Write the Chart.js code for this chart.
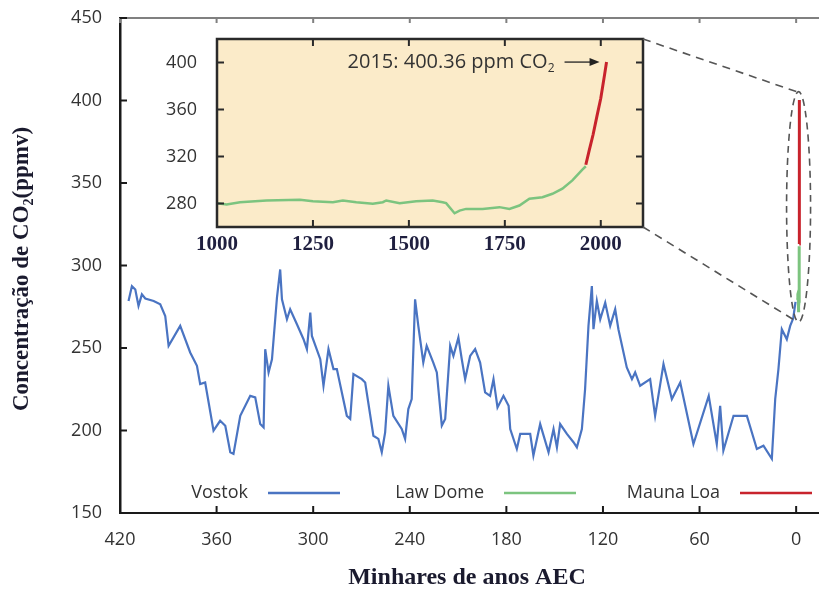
<!DOCTYPE html>
<html lang="pt">
<head>
  <meta charset="UTF-8" />
  <title>Concentração de CO2 - Vostok, Law Dome, Mauna Loa</title>
  <script src="https://cdn.jsdelivr.net/npm/chart.js"></script>
  <style>
    html, body { margin: 0; padding: 0; background: #fff; overflow: hidden; }
    #wrap { position: relative; width: 819px; height: 595px; overflow: hidden; }
    #wrap canvas { position: absolute; left: 0; top: 0; }
  </style>
</head>
<body>
<div id="wrap">
  <canvas id="mainChart" width="840" height="595"></canvas>
  <canvas id="insetChart" width="840" height="595"></canvas>
</div>
<script>
  // Vostok ice core: thousands of years BCE / ppmv
  const vostokAge = [414.7, 412.6, 410.5, 408.5, 406.4, 404.3, 399.1, 395.0, 391.9, 389.8,
    382.6, 376.4, 372.2, 370.2, 367.1, 361.9, 357.8, 354.6, 351.5, 349.5,
    345.3, 339.1, 336.0, 332.9, 330.8, 329.8, 327.7, 325.6, 322.5, 320.5,
    319.4, 316.3, 314.3, 310.1, 306.0, 303.9, 301.8, 300.8, 295.6, 293.6,
    290.5, 287.4, 285.3, 279.1, 277.0, 275.0, 269.8, 267.7, 262.6, 259.5,
    257.4, 255.3, 253.3, 250.2, 245.0, 242.9, 240.9, 238.8, 236.7, 234.7,
    231.6, 229.5, 225.4, 223.2, 220.1, 218.0, 214.9, 212.9, 209.8, 207.7,
    205.6, 202.5, 199.4, 196.3, 193.2, 190.1, 188.0, 185.5, 181.8, 178.6,
    177.6, 173.5, 171.4, 165.2, 163.2, 159.0, 153.8, 150.7, 148.6, 146.6,
    142.4, 138.3, 136.2, 133.1, 131.1, 129.0, 126.9, 125.9, 123.8, 121.7,
    118.6, 115.5, 112.4, 110.4, 105.2, 102.0, 100.0, 96.9, 90.7, 87.6,
    82.4, 77.2, 72.0, 63.8, 54.3, 49.3, 47.2, 45.2, 38.9, 30.6,
    24.4, 20.3, 15.1, 13.0, 11.0, 8.9, 5.8, 3.7, 1.8, 0.4];
  const vostokCO2 = [278.5, 287.5, 285.5, 275.5, 282.5, 280.0, 278.5, 276.5, 269.4, 251.3,
    263.4, 247.3, 239.2, 228.1, 229.1, 199.9, 205.9, 202.9, 186.8, 185.8,
    208.9, 221.0, 220.1, 203.9, 201.9, 249.3, 235.2, 243.2, 280.5, 297.6,
    279.5, 267.4, 273.5, 264.4, 255.3, 249.3, 271.5, 257.3, 243.2, 227.1,
    249.3, 237.2, 237.2, 208.9, 207.0, 234.2, 231.1, 229.1, 196.8, 194.9,
    186.8, 198.9, 227.1, 208.9, 200.9, 194.9, 213.0, 219.1, 279.5, 263.4,
    241.2, 251.3, 241.2, 235.2, 203.0, 207.0, 251.3, 245.2, 256.3, 243.2,
    231.1, 245.2, 249.3, 241.2, 223.1, 221.0, 231.1, 214.0, 221.0, 215.0,
    200.9, 188.8, 197.9, 197.9, 184.8, 203.9, 186.8, 200.9, 189.8, 203.9,
    197.9, 192.9, 189.8, 200.9, 225.1, 263.4, 287.5, 261.4, 278.5, 267.4,
    277.5, 263.4, 273.5, 261.4, 238.2, 231.1, 235.2, 227.1, 231.1, 208.9,
    240.2, 219.1, 229.1, 191.8, 221.0, 191.8, 215.0, 187.8, 208.9, 208.9,
    188.8, 190.8, 182.8, 219.1, 237.2, 261.4, 255.3, 263.4, 268.0, 278.0];

  // Law Dome (year CE / ppm)
  const lawDomeYear = [1000, 1025, 1060, 1129, 1216, 1250, 1302, 1328, 1363, 1406,
    1432, 1441, 1476, 1519, 1562, 1588, 1597, 1619, 1632, 1649,
    1692, 1736, 1762, 1788, 1814, 1848, 1874, 1900, 1926, 1952, 1961];
  const lawDomeCO2 = [280.3, 279.1, 281.1, 282.6, 283.1, 282.0, 281.1, 282.6, 281.1, 279.7,
    281.1, 282.6, 280.3, 282.0, 282.6, 281.1, 280.3, 271.7, 274.0, 275.4,
    275.4, 276.9, 275.4, 278.3, 284.0, 285.4, 288.3, 292.6, 299.7, 308.9, 311.7];

  // Mauna Loa (year CE / ppm)
  const maunaLoaYear = [1961, 1970, 1980, 1990, 2000, 2010, 2015];
  const maunaLoaCO2 = [313.0, 325.5, 338.7, 354.4, 369.5, 389.9, 400.36];

  const mainXTicks = [420, 360, 300, 240, 180, 120, 60, 0];
  const mainYTicks = [150, 200, 250, 300, 350, 400, 450];
  const insetXTicks = [1000, 1250, 1500, 1750, 2000];
  const insetYTicks = [280, 320, 360, 400];

  const seriesNames = ['Vostok', 'Law Dome', 'Mauna Loa'];
  const seriesColors = ['#4a74c2', '#7cc47f', '#c8232c'];

  const SANS = '"Open Sans", "Noto Sans", sans-serif';
  const SERIF = '"Liberation Serif", "DejaVu Serif", serif';

  const toPoints = (xs, ys) => xs.map((x, i) => ({ x: x, y: ys[i] }));
  const toKyr = years => years.map(y => -y / 1000);   // CE years -> thousands of years BCE

  // text with a subscript piece, parts = [[text, isSub], ...]
  function drawRich(ctx, parts, x, y, baseFont, subFont, size, align) {
    const widths = parts.map(([t, sub]) => {
      ctx.font = sub ? subFont : baseFont;
      return ctx.measureText(t).width;
    });
    const total = widths.reduce((s, w) => s + w, 0);
    let cx = align === 'right' ? x - total : align === 'center' ? x - total / 2 : x;
    ctx.textAlign = 'left';
    parts.forEach(([t, sub], i) => {
      ctx.font = sub ? subFont : baseFont;
      ctx.fillText(t, cx, sub ? y + size * 0.32 : y);
      cx += widths[i];
    });
  }

  function ellipseBox(chart) {
    const xs = chart.scales.x, ys = chart.scales.y;
    const ages = toKyr(lawDomeYear.concat(maunaLoaYear));
    const cx = xs.getPixelForValue((Math.min(...ages) + Math.max(...ages)) / 2);
    const top = ys.getPixelForValue(Math.max(...maunaLoaCO2) + 5);
    const bottom = ys.getPixelForValue(Math.min(...lawDomeCO2) - 6);
    return { cx: cx, top: top, bottom: bottom, rx: 12 };
  }

  const mainDecor = {
    id: 'mainDecor',
    afterDraw(chart) {
      const { ctx, chartArea: a, scales: { x, y } } = chart;
      ctx.save();

      // top frame + inward ticks
      ctx.strokeStyle = '#808080';
      ctx.lineWidth = 2;
      ctx.beginPath(); ctx.moveTo(a.left, a.top); ctx.lineTo(chart.width, a.top); ctx.stroke();
      mainXTicks.forEach(v => {
        const p = x.getPixelForValue(v);
        ctx.beginPath(); ctx.moveTo(p, a.top); ctx.lineTo(p, a.top + 5); ctx.stroke();
      });
      ctx.strokeStyle = '#1a1a1a';
      mainXTicks.forEach(v => {
        const p = x.getPixelForValue(v);
        ctx.beginPath(); ctx.moveTo(p, a.bottom); ctx.lineTo(p, a.bottom - 7); ctx.stroke();
      });
      mainYTicks.forEach(v => {
        const p = y.getPixelForValue(v);
        ctx.beginPath(); ctx.moveTo(a.left, p); ctx.lineTo(a.left + 7, p); ctx.stroke();
      });

      // dashed ellipse round the recent record
      const e = ellipseBox(chart);
      ctx.setLineDash([7, 5]);
      ctx.strokeStyle = '#555';
      ctx.lineWidth = 1.6;
      ctx.beginPath();
      ctx.ellipse(e.cx, (e.top + e.bottom) / 2, e.rx, (e.bottom - e.top) / 2, 0, 0, Math.PI * 2);
      ctx.stroke();
      ctx.setLineDash([]);

      // legend: label then line sample
      ctx.font = `18px ${SANS}`;
      ctx.textAlign = 'right';
      ctx.textBaseline = 'middle';
      chart.data.datasets.forEach((ds, i) => {
        const end = a.left + 220 + i * 236, start = end - 72, ly = a.bottom - 20;
        ctx.fillStyle = '#333';
        ctx.fillText(ds.label, start - 20, ly);
        ctx.strokeStyle = ds.borderColor;
        ctx.lineWidth = 2.5;
        ctx.beginPath(); ctx.moveTo(start, ly); ctx.lineTo(end, ly); ctx.stroke();
      });

      // axis titles
      ctx.fillStyle = '#1a1a2e';
      ctx.textAlign = 'center';
      ctx.font = `bold 24px ${SERIF}`;
      ctx.fillText('Minhares de anos AEC', 467, 578);

      ctx.translate(22, 269);
      ctx.rotate(-Math.PI / 2);
      drawRich(ctx, [['Concentração de CO', false], ['2', true], ['(ppmv)', false]], 0, 0,
        `bold 23px ${SERIF}`, `bold 14px ${SERIF}`, 23, 'center');
      ctx.restore();
    }
  };

  const mainChart = new Chart(document.getElementById('mainChart'), {
    type: 'line',
    data: {
      datasets: [
        { label: seriesNames[0], data: toPoints(vostokAge, vostokCO2), borderColor: seriesColors[0], borderWidth: 2.2 },
        { label: seriesNames[1], data: toPoints(toKyr(lawDomeYear), lawDomeCO2), borderColor: seriesColors[1], borderWidth: 3 },
        { label: seriesNames[2], data: toPoints(toKyr(maunaLoaYear), maunaLoaCO2), borderColor: seriesColors[2], borderWidth: 3 }
      ]
    },
    options: {
      responsive: false,
      animation: false,
      elements: { point: { radius: 0 }, line: { tension: 0 } },
      layout: { padding: { top: 18, right: 2, left: 0, bottom: 0 } },
      plugins: { legend: { display: false }, tooltip: { enabled: false } },
      scales: {
        x: {
          type: 'linear', reverse: true, min: -26, max: 420,
          afterBuildTicks: s => { s.ticks = mainXTicks.map(v => ({ value: v })); },
          afterFit: s => { s.height = 82; },
          grid: { display: false, drawTicks: false },
          border: { display: true, color: '#1a1a1a', width: 2 },
          ticks: { padding: 16, color: '#333', autoSkip: false, maxRotation: 0,
                   font: { family: SANS, size: 18 }, callback: v => String(v) }
        },
        y: {
          min: 150, max: 450,
          afterBuildTicks: s => { s.ticks = mainYTicks.map(v => ({ value: v })); },
          afterFit: s => { s.width = 120; s.paddingTop = 0; s.paddingBottom = 0; },
          grid: { display: false, drawTicks: false },
          border: { display: true, color: '#1a1a1a', width: 2.5 },
          ticks: { padding: 18, color: '#333', font: { family: SANS, size: 18 }, callback: v => String(v) }
        }
      }
    },
    plugins: [mainDecor]
  });

  const insetDecor = {
    id: 'insetDecor',
    beforeDraw(chart) {
      const { ctx, chartArea: a } = chart;
      ctx.save();
      ctx.fillStyle = '#fbebc9';
      ctx.fillRect(a.left, a.top, a.right - a.left, a.bottom - a.top);
      ctx.restore();
    },
    afterDraw(chart) {
      const { ctx, chartArea: a, scales: { x, y } } = chart;
      ctx.save();

      // frame + inward ticks on all four sides
      ctx.strokeStyle = '#2a2a2a';
      ctx.lineWidth = 2.5;
      ctx.strokeRect(a.left, a.top, a.right - a.left, a.bottom - a.top);
      ctx.lineWidth = 2;
      insetXTicks.forEach(v => {
        const p = x.getPixelForValue(v);
        ctx.beginPath();
        ctx.moveTo(p, a.bottom); ctx.lineTo(p, a.bottom - 7);
        ctx.moveTo(p, a.top); ctx.lineTo(p, a.top + 7);
        ctx.stroke();
      });
      insetYTicks.forEach(v => {
        const p = y.getPixelForValue(v);
        ctx.beginPath();
        ctx.moveTo(a.left, p); ctx.lineTo(a.left + 7, p);
        ctx.moveTo(a.right, p); ctx.lineTo(a.right - 7, p);
        ctx.stroke();
      });

      // annotation with arrow to the last Mauna Loa value
      const n = maunaLoaYear.length - 1;
      const ex = x.getPixelForValue(maunaLoaYear[n]), ey = y.getPixelForValue(maunaLoaCO2[n]);
      const tip = ex - 7, tail = tip - 35;
      ctx.strokeStyle = '#222';
      ctx.fillStyle = '#222';
      ctx.lineWidth = 1.3;
      ctx.beginPath(); ctx.moveTo(tail, ey); ctx.lineTo(tip - 6, ey); ctx.stroke();
      ctx.beginPath(); ctx.moveTo(tip, ey); ctx.lineTo(tip - 10, ey - 4); ctx.lineTo(tip - 10, ey + 4); ctx.closePath(); ctx.fill();
      ctx.fillStyle = '#333';
      ctx.textBaseline = 'middle';
      drawRich(ctx, [[`${maunaLoaYear[n]}: ${maunaLoaCO2[n].toFixed(2)} ppm CO`, false], ['2', true]],
        tail - 10, ey, `20px ${SANS}`, `12px ${SANS}`, 20, 'right');

      // dashed connectors to the ellipse on the main chart
      const e = ellipseBox(mainChart);
      ctx.setLineDash([8, 6]);
      ctx.strokeStyle = '#555';
      ctx.lineWidth = 1.6;
      ctx.beginPath();
      ctx.moveTo(a.right, a.top); ctx.lineTo(e.cx - 2, e.top);
      ctx.moveTo(a.right, a.bottom); ctx.lineTo(e.cx - 1, e.bottom);
      ctx.stroke();
      ctx.restore();
    }
  };

  const insetChart = new Chart(document.getElementById('insetChart'), {
    type: 'line',
    data: {
      datasets: [
        { label: seriesNames[1], data: toPoints(lawDomeYear, lawDomeCO2), borderColor: seriesColors[1], borderWidth: 2.5 },
        { label: seriesNames[2], data: toPoints(maunaLoaYear, maunaLoaCO2), borderColor: seriesColors[2], borderWidth: 3 }
      ]
    },
    options: {
      responsive: false,
      animation: false,
      elements: { point: { radius: 0 }, line: { tension: 0 } },
      layout: { padding: { top: 39, right: 197, left: 150, bottom: 338 } },
      plugins: { legend: { display: false }, tooltip: { enabled: false } },
      scales: {
        x: {
          type: 'linear', min: 1000, max: 2110,
          afterBuildTicks: s => { s.ticks = insetXTicks.map(v => ({ value: v })); },
          afterFit: s => { s.height = 30; },
          grid: { display: false, drawTicks: false },
          border: { display: false },
          ticks: { padding: 5, color: '#1f1f3f', autoSkip: false, maxRotation: 0,
                   font: { family: SERIF, size: 21, weight: 'bold' }, callback: v => String(v) }
        },
        y: {
          min: 260, max: 420,
          afterBuildTicks: s => { s.ticks = insetYTicks.map(v => ({ value: v })); },
          afterFit: s => { s.width = 67; },
          grid: { display: false, drawTicks: false },
          border: { display: false },
          ticks: { padding: 20, color: '#333', font: { family: SANS, size: 18 }, callback: v => String(v) }
        }
      }
    },
    plugins: [insetDecor]
  });
</script>
</body>
</html>
